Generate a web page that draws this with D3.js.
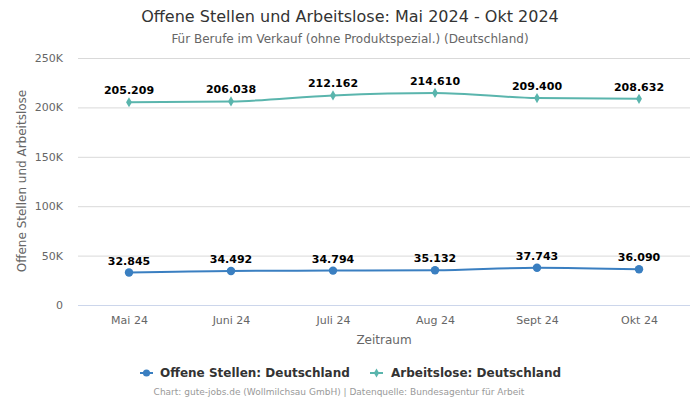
<!DOCTYPE html>
<html><head><meta charset="utf-8">
<script src="https://cdn.jsdelivr.net/npm/d3@7"></script>
<style>body{margin:0;background:#fff;font-family:"DejaVu Sans",sans-serif;}</style>
</head><body><svg id="c" width="700" height="400"></svg>
<script>
const categories = ["Mai 24","Juni 24","Juli 24","Aug 24","Sept 24","Okt 24"];
const offeneStellen = [32845,34492,34794,35132,37743,36090];
const arbeitslose = [205209,206038,212162,214610,209400,208632];
const yTicks = [0,50000,100000,150000,200000,250000];
const yTickLabels = ["0","50K","100K","150K","200K","250K"];
const seriesNames = ["Offene Stellen: Deutschland","Arbeitslose: Deutschland"];
const colors = ["#3a7fc1","#5ab5ad"];

const svg = d3.select("#c");
const fmt = v => d3.format(",")(v).replace(/,/g,".");
const x = d3.scalePoint().domain(categories).range([78,690]).padding(0.5);
const y = d3.scaleLinear().domain([0,250000]).range([305,58]);

svg.append("text").attr("x",350).attr("y",22).attr("text-anchor","middle")
  .attr("font-size",16).attr("fill","#333").text("Offene Stellen und Arbeitslose: Mai 2024 - Okt 2024");
svg.append("text").attr("x",350).attr("y",43).attr("text-anchor","middle")
  .attr("font-size",12).attr("fill","#666").text("Für Berufe im Verkauf (ohne Produktspezial.) (Deutschland)");

// grid
const ya = svg.append("g").attr("transform","translate(78,0)")
  .call(d3.axisLeft(y).tickValues(yTicks).tickSize(-612).tickFormat((d,i)=>yTickLabels[i]).tickPadding(15));
ya.select(".domain").remove();
ya.selectAll(".tick line").attr("stroke",(d)=>d===0?"#ccd6eb":"#d9d9d9");
ya.selectAll(".tick text").attr("font-size",11).attr("fill","#666").attr("font-family","DejaVu Sans");

svg.append("text").attr("transform","translate(26,181) rotate(-90)").attr("text-anchor","middle")
  .attr("font-size",12).attr("fill","#666").text("Offene Stellen und Arbeitslose");

const xa = svg.append("g").attr("transform","translate(0,305)")
  .call(d3.axisBottom(x).tickSize(0).tickPadding(11));
xa.select(".domain").remove();
xa.selectAll(".tick text").attr("font-size",11).attr("fill","#666").attr("font-family","DejaVu Sans");
svg.append("text").attr("x",384).attr("y",344).attr("text-anchor","middle")
  .attr("font-size",12).attr("fill","#666").text("Zeitraum");

const line = d3.line().x((d,i)=>x(categories[i])).y(d=>y(d)).curve(d3.curveMonotoneX);
[offeneStellen, arbeitslose].forEach((s,k)=>{
  svg.append("path").attr("d",line(s)).attr("fill","none").attr("stroke",colors[k]).attr("stroke-width",2);
  const sym = k===0 ? d3.symbol(d3.symbolCircle,56) : d3.symbol(d3.symbolDiamond,30);
  svg.selectAll(null).data(s).enter().append("path").attr("d",sym)
    .attr("transform",(d,i)=>`translate(${x(categories[i])},${y(d)})`).attr("fill",colors[k]);
  svg.selectAll(null).data(s).enter().append("text")
    .attr("x",(d,i)=>x(categories[i])).attr("y",d=>y(d)-8).attr("text-anchor","middle")
    .attr("font-size",11).attr("font-weight","bold").attr("fill","#000").text(d=>fmt(d));
});

// legend
const lg = [{x:140,tx:160},{x:370,tx:391}];
lg.forEach((l,k)=>{
  svg.append("line").attr("x1",l.x).attr("x2",l.x+13).attr("y1",373).attr("y2",373).attr("stroke",colors[k]).attr("stroke-width",2);
  const sym = k===0 ? d3.symbol(d3.symbolCircle,40) : d3.symbol(d3.symbolDiamond,24);
  svg.append("path").attr("d",sym).attr("transform",`translate(${l.x+6.5},373)`).attr("fill",colors[k]);
  svg.append("text").attr("x",l.tx).attr("y",377).attr("font-size",12).attr("font-weight","bold").attr("fill","#333").text(seriesNames[k]);
});
svg.append("text").attr("x",339).attr("y",395).attr("text-anchor","middle")
  .attr("font-size",9).attr("fill","#999").text("Chart: gute-jobs.de (Wollmilchsau GmbH) | Datenquelle: Bundesagentur für Arbeit");
</script></body></html>
